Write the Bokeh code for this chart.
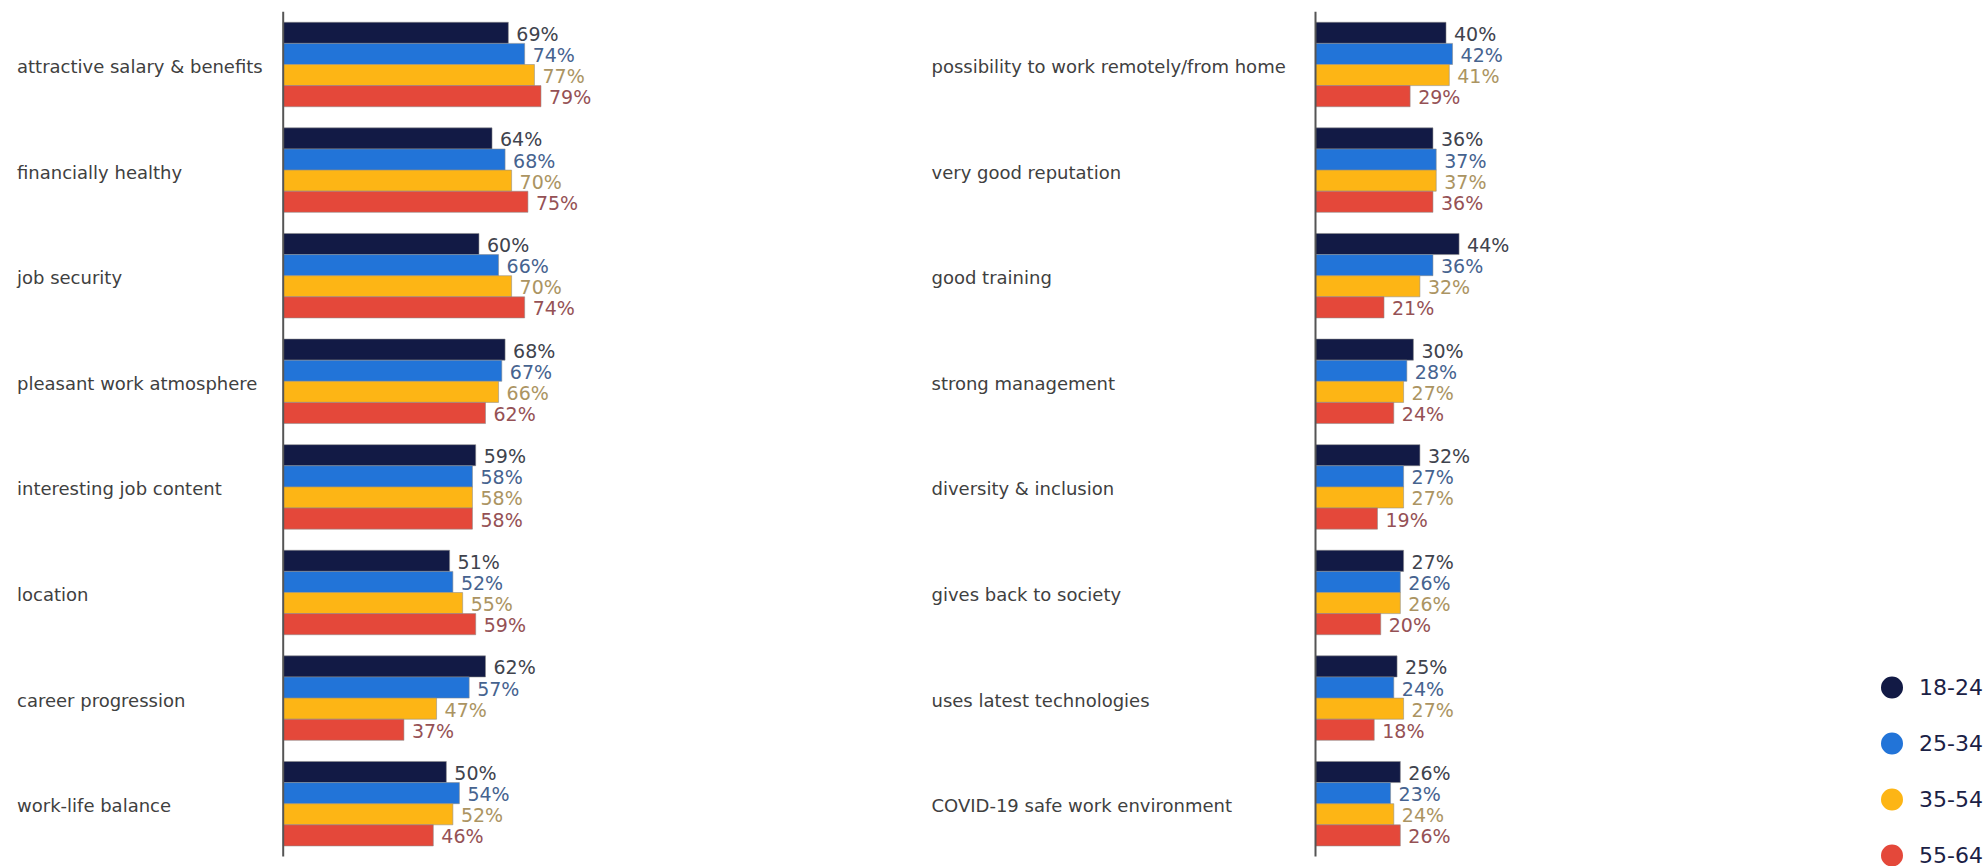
from bokeh.plotting import figure
from bokeh.models import Range1d, ColumnDataSource, Legend, LegendItem
from bokeh.layouts import row
from bokeh.embed import file_html
from bokeh.resources import INLINE
from bokeh.core.properties import value

# ---------------- data ----------------
age_groups = ["18-24", "25-34", "35-54", "55-64"]

left_categories = [
    "attractive salary & benefits",
    "financially healthy",
    "job security",
    "pleasant work atmosphere",
    "interesting job content",
    "location",
    "career progression",
    "work-life balance",
]
left_18_24 = [69, 64, 60, 68, 59, 51, 62, 50]
left_25_34 = [74, 68, 66, 67, 58, 52, 57, 54]
left_35_54 = [77, 70, 70, 66, 58, 55, 47, 52]
left_55_64 = [79, 75, 74, 62, 58, 59, 37, 46]

right_categories = [
    "possibility to work remotely/from home",
    "very good reputation",
    "good training",
    "strong management",
    "diversity & inclusion",
    "gives back to society",
    "uses latest technologies",
    "COVID-19 safe work environment",
]
right_18_24 = [40, 36, 44, 30, 32, 27, 25, 26]
right_25_34 = [42, 37, 36, 28, 27, 26, 24, 23]
right_35_54 = [41, 37, 32, 27, 27, 26, 27, 24]
right_55_64 = [29, 36, 21, 24, 19, 20, 18, 26]

# ---------------- styles ----------------
bar_colors = ["#121a45", "#2274d8", "#fdb515", "#e4483a"]
value_colors = ["#40434d", "#46638f", "#ab9462", "#955155"]
FONT_NAME = "DejaVu Sans"
FONT = value(FONT_NAME)
PX_PER_PCT = 3.263
BAND_PX = 105.6
TOP_PX = 11.2
H = 866


def build(categories, series, width, axis_px, label_px):
    n = len(categories)
    x_start = -axis_px / PX_PER_PCT
    x_end = x_start + width / PX_PER_PCT
    y_top = -0.5 - TOP_PX / BAND_PX
    y_bottom = y_top + H / BAND_PX
    p = figure(width=width, height=H, x_range=Range1d(x_start, x_end),
               y_range=Range1d(y_bottom, y_top), output_backend="svg",
               toolbar_location=None, x_axis_location=None, y_axis_location=None,
               min_border=0, min_border_left=0, min_border_right=0,
               min_border_top=0, min_border_bottom=0)
    p.outline_line_color = None
    p.grid.visible = False
    p.background_fill_color = "white"
    p.border_fill_color = "white"

    idx = list(range(n))
    markers = []
    for k, vals in enumerate(series):
        ys = [i + (k - 1.5) * 0.2 for i in idx]
        src = ColumnDataSource(dict(y=ys, v=vals, lbl=[f"{v}%" for v in vals]))
        p.hbar(y="y", left=0, right="v", height=0.2, source=src,
               fill_color=bar_colors[k], line_color="#8a8a8a", line_alpha=0.55,
               line_width=1)
        p.text(x="v", y="y", text="lbl", source=src, x_offset=8, y_offset=1,
               text_align="left", text_baseline="middle", text_font=FONT,
               text_font_size="19px", text_color=value_colors[k])
        # zero-size markers: used only to give the legend its round swatches
        markers.append(p.scatter(x="v", y="y", source=src, marker="circle", size=0,
                                 fill_color=bar_colors[k], line_color=None))

    p.segment(x0=[0], y0=[-0.5], x1=[0], y1=[n - 0.5],
              line_color="#555555", line_width=2)

    p.text(x=[x_start] * n, y=idx, text=categories, x_offset=label_px, y_offset=2,
           text_align="left", text_baseline="middle", text_font=FONT,
           text_font_size="18px", text_color="#404040")
    return p, markers


LEFT_W = 920
pL, _ = build(left_categories, [left_18_24, left_25_34, left_35_54, left_55_64],
              LEFT_W, 282.7, 16.5)
pR, rmarkers = build(right_categories,
                     [right_18_24, right_25_34, right_35_54, right_55_64],
                     1987 - LEFT_W, 1315 - LEFT_W, 931 - LEFT_W)

items = [LegendItem(label=name, renderers=[r]) for name, r in zip(age_groups, rmarkers)]
legend = Legend(items=items, location=(944, -17), orientation="vertical",
                glyph_width=55, glyph_height=56, spacing=-4, padding=0, margin=0,
                border_line_color=None, background_fill_alpha=0,
                label_text_font=FONT_NAME, label_text_font_size="22px",
                label_text_color="#1b2145", label_standoff=0)
pR.add_layout(legend)

layout = row(pL, pR, spacing=0)
open("out.html", "w").write(file_html(layout, INLINE))
